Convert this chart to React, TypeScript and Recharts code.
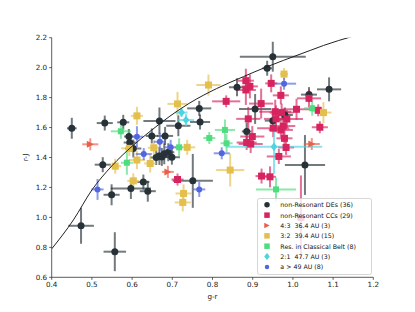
import React from 'react';
import { ScatterChart, Scatter, XAxis, YAxis, ErrorBar, Legend, Curve } from 'recharts';

type P = [number, number, number, number]; // g-r, r-J, err(g-r), err(r-J)

const deNonRes: P[] = [
  [0.45, 1.595, 0.012, 0.07], [0.532, 1.63, 0.02, 0.05], [0.578, 1.635, 0.015, 0.05],
  [0.592, 1.54, 0.012, 0.05], [0.594, 1.5, 0.015, 0.05], [0.603, 1.46, 0.02, 0.06],
  [0.668, 1.644, 0.04, 0.09], [0.649, 1.544, 0.015, 0.05], [0.682, 1.544, 0.02, 0.06],
  [0.715, 1.612, 0.03, 0.07], [0.767, 1.728, 0.03, 0.05], [0.769, 1.637, 0.025, 0.05],
  [0.674, 1.404, 0.02, 0.06], [0.68, 1.425, 0.02, 0.07], [0.699, 1.402, 0.02, 0.05],
  [0.668, 1.41, 0.015, 0.06], [0.527, 1.352, 0.02, 0.05], [0.597, 1.193, 0.05, 0.07],
  [0.628, 1.236, 0.015, 0.05], [0.639, 1.175, 0.02, 0.07], [0.549, 1.151, 0.02, 0.07],
  [0.473, 0.944, 0.032, 0.12], [0.557, 0.771, 0.028, 0.13], [0.751, 1.244, 0.05, 0.18],
  [0.861, 1.869, 0.02, 0.06], [0.95, 2.073, 0.082, 0.1], [0.936, 1.996, 0.012, 0.05],
  [0.906, 1.724, 0.04, 0.1], [0.885, 1.574, 0.012, 0.06], [0.95, 1.646, 0.02, 0.05],
  [1.04, 1.82, 0.02, 0.05], [1.09, 1.855, 0.03, 0.08], [1.03, 1.35, 0.05, 0.2],
  [0.98, 1.684, 0.02, 0.05], [0.66, 1.4, 0.015, 0.05], [0.69, 1.435, 0.015, 0.06],
];

const ccNonRes: P[] = [
  [0.834, 1.775, 0.035, 0.04], [0.883, 1.913, 0.02, 0.08], [0.883, 1.851, 0.025, 0.1],
  [0.893, 1.875, 0.02, 0.08], [0.946, 1.895, 0.015, 0.06], [0.921, 1.76, 0.03, 0.1],
  [0.97, 1.815, 0.02, 0.06], [1.04, 1.795, 0.03, 0.06], [1.009, 1.722, 0.035, 0.07],
  [1.063, 1.715, 0.015, 0.04], [1.067, 1.602, 0.02, 0.04], [0.956, 1.706, 0.04, 0.08],
  [0.972, 1.7, 0.03, 0.06], [0.985, 1.657, 0.04, 0.06], [0.958, 1.658, 0.03, 0.09],
  [0.889, 1.658, 0.03, 0.08], [0.976, 1.61, 0.03, 0.07], [0.951, 1.596, 0.04, 0.06],
  [0.97, 1.584, 0.03, 0.05], [0.899, 1.54, 0.03, 0.07], [0.885, 1.5, 0.025, 0.05],
  [0.895, 1.49, 0.03, 0.06], [0.983, 1.467, 0.02, 0.05], [0.965, 1.407, 0.03, 0.05],
  [0.979, 1.528, 0.02, 0.06], [0.922, 1.276, 0.015, 0.05], [0.943, 1.271, 0.015, 0.07],
  [0.713, 1.253, 0.015, 0.04], [1.02, 1.0, 0.01, 0.28],
];

const res43: P[] = [
  [0.496, 1.488, 0.02, 0.04], [0.689, 1.304, 0.015, 0.04], [1.047, 1.49, 0.02, 0.04],
];

const res32: P[] = [
  [0.612, 1.678, 0.015, 0.06], [0.713, 1.758, 0.025, 0.08], [0.79, 1.884, 0.03, 0.07],
  [0.978, 1.957, 0.01, 0.04], [1.076, 1.7, 0.02, 0.07], [0.593, 1.461, 0.02, 0.05],
  [0.654, 1.465, 0.015, 0.05], [0.737, 1.468, 0.02, 0.05], [0.558, 1.342, 0.015, 0.05],
  [0.612, 1.383, 0.02, 0.06], [0.645, 1.36, 0.015, 0.06], [0.603, 1.244, 0.015, 0.05],
  [0.728, 1.16, 0.02, 0.06], [0.726, 1.1, 0.02, 0.06], [0.844, 1.316, 0.035, 0.11],
];

const resClassical: P[] = [
  [0.572, 1.575, 0.025, 0.05], [0.792, 1.53, 0.015, 0.04], [0.831, 1.584, 0.025, 0.07],
  [0.835, 1.495, 0.015, 0.06], [0.717, 1.468, 0.01, 0.06], [0.587, 1.365, 0.015, 0.08],
  [1.048, 1.729, 0.02, 0.05], [0.958, 1.187, 0.05, 0.08],
];

const res21: P[] = [
  [0.723, 1.7, 0.015, 0.03], [0.734, 1.65, 0.02, 0.04], [0.953, 1.472, 0.12, 0.18],
];

const beyond49: P[] = [
  [0.612, 1.539, 0.015, 0.07], [0.669, 1.505, 0.015, 0.06], [0.696, 1.468, 0.015, 0.05],
  [0.629, 1.423, 0.02, 0.04], [0.823, 1.428, 0.02, 0.04], [0.514, 1.187, 0.015, 0.07],
  [0.767, 1.187, 0.015, 0.05], [0.978, 1.893, 0.03, 0.04],
];

const curveGR = [0.4, 0.454, 0.5, 0.55, 0.6, 0.645, 0.694, 0.744, 0.81, 0.877, 0.93, 0.976, 1.043, 1.076, 1.15];
const curveRJ = [0.79, 0.983, 1.183, 1.345, 1.475, 1.575, 1.676, 1.765, 1.86, 1.94, 2.0, 2.048, 2.115, 2.148, 2.21];

const xTicks = [0.4, 0.5, 0.6, 0.7, 0.8, 0.9, 1.0, 1.1, 1.2];
const yTicks = [0.6, 0.8, 1.0, 1.2, 1.4, 1.6, 1.8, 2.0, 2.2];

const legendLabels = [
  'non-Resonant DEs (36)',
  'non-Resonant CCs (29)',
  '4:3  36.4 AU (3)',
  '3:2  39.4 AU (15)',
  'Res. in Classical Belt (8)',
  '2:1  47.7 AU (3)',
  'a > 49 AU (8)',
];

const C = {
  dark: '#263238',
  crimson: '#d6245f',
  red: '#e8604c',
  yellow: '#e3bf4e',
  green: '#4fdc7f',
  cyan: '#4dd4e0',
  blue: '#5266e0',
};

const rows = (pts: P[]) => pts.map(([x, y, ex, ey]) => ({ x, y, ex, ey }));
const curveRows = curveGR.map((x, i) => ({ x, y: curveRJ[i] }));

const mk = (kind: string, size: number, fill: string) => (p: any) => {
  const { cx, cy } = p;
  if (cx == null || cy == null) return <g />;
  const h = size / 2;
  if (kind === 'circle') return <circle cx={cx} cy={cy} r={h} fill={fill} />;
  if (kind === 'square') return <rect x={cx - h} y={cy - h} width={size} height={size} fill={fill} />;
  if (kind === 'tri') return <polygon points={`${cx + h},${cy} ${cx - h},${cy - h} ${cx - h},${cy + h}`} fill={fill} />;
  if (kind === 'diamond') return <polygon points={`${cx},${cy - h} ${cx + h * 0.8},${cy} ${cx},${cy + h} ${cx - h * 0.8},${cy}`} fill={fill} />;
  return <g />;
};

const series = [
  { name: legendLabels[0], data: deNonRes, color: C.dark, kind: 'circle', size: 7 },
  { name: legendLabels[1], data: ccNonRes, color: C.crimson, kind: 'square', size: 7 },
  { name: legendLabels[2], data: res43, color: C.red, kind: 'tri', size: 7 },
  { name: legendLabels[3], data: res32, color: C.yellow, kind: 'square', size: 7 },
  { name: legendLabels[4], data: resClassical, color: C.green, kind: 'square', size: 6 },
  { name: legendLabels[5], data: res21, color: C.cyan, kind: 'diamond', size: 8.5 },
  { name: legendLabels[6], data: beyond49, color: C.blue, kind: 'circle', size: 6 },
];

const font = "'DejaVu Sans', sans-serif";
const f1 = (v: number) => v.toFixed(1);

const LegendBox = () => (
  <svg width={115} height={77} style={{ display: 'block' }}>
    <rect x={0.5} y={0.5} width={114} height={76} rx={2} fill="#fff" fillOpacity={0.8} stroke="#cccccc" strokeWidth={0.8} />
    {series.map((s, i) => {
      const cy = 6.8 + i * 10.35;
      const lsize = s.kind === 'circle' ? (i === 0 ? 5.5 : 4.5) : s.kind === 'diamond' ? 7 : 5.5;
      return (
        <g key={i}>
          {mk(s.kind, lsize, s.color)({ cx: 10, cy })}
          <text x={23.3} y={cy} dominantBaseline="central" fontSize={6.3} fontFamily={font} fill="#111" style={{ whiteSpace: 'pre' }}>
            {s.name}
          </text>
        </g>
      );
    })}
  </svg>
);

const smoothLine = (props: any) => (
  <Curve points={props.points} type="monotoneX" stroke="#222" strokeWidth={1} fill="none" />
);

export default function App() {
  return (
    <div style={{ position: 'absolute', left: 0, top: 0, width: 415, height: 312, background: '#fff' }}>
      <ScatterChart width={415} height={312} margin={{ top: 37.7, right: 41.7, bottom: 10.7, left: 5.7 }}>
        <XAxis
          type="number"
          dataKey="x"
          domain={[0.4, 1.2]}
          ticks={xTicks}
          allowDataOverflow
          tickFormatter={f1}
          height={24}
          tickSize={2.5}
          tickMargin={2}
          stroke="#333"
          strokeWidth={0.8}
          tick={{ fontSize: 7.2, fill: '#222', fontFamily: font }}
          label={{ value: 'g-r', position: 'insideBottom', offset: 2, fontSize: 7.2, fill: '#222', fontFamily: font }}
        />
        <YAxis
          type="number"
          dataKey="y"
          domain={[0.6, 2.2]}
          ticks={yTicks}
          allowDataOverflow
          tickFormatter={f1}
          width={46}
          tickSize={2.5}
          tickMargin={2}
          stroke="#333"
          strokeWidth={0.8}
          tick={{ fontSize: 7.2, fill: '#222', fontFamily: font }}
          label={{ value: 'r-J', angle: -90, position: 'center', fontSize: 7.2, fill: '#222', fontFamily: font, dx: -3 }}
        />
        <XAxis
          xAxisId="top"
          orientation="top"
          type="number"
          domain={[0.4, 1.2]}
          height={0}
          tick={false}
          tickLine={false}
          stroke="#333"
          strokeWidth={0.8}
          label={{ value: 'Resonant Col-OSSOS TNOs', position: 'top', offset: 4, fontSize: 8.6, fill: '#111', fontFamily: font }}
        />
        <YAxis
          yAxisId="right"
          orientation="right"
          type="number"
          domain={[0.6, 2.2]}
          width={0}
          tick={false}
          tickLine={false}
          stroke="#333"
          strokeWidth={0.8}
        />
        {series.map((s, i) => (
          <Scatter
            key={i}
            name={s.name}
            data={rows(s.data)}
            fill={s.color}
            shape={mk(s.kind, s.size, s.color)}
            isAnimationActive={false}
          >
            <ErrorBar dataKey="ex" direction="x" width={0} stroke={s.color} strokeWidth={2} strokeOpacity={0.65} />
            <ErrorBar dataKey="ey" direction="y" width={0} stroke={s.color} strokeWidth={2} strokeOpacity={0.65} />
          </Scatter>
        ))}
        <Scatter
          name="curve"
          data={curveRows}
          line={smoothLine}
          shape={() => <g />}
          isAnimationActive={false}
          legendType="none"
        />
        <Legend
          layout="vertical"
          align="center"
          verticalAlign="middle"
          width={115}
          height={77}
          wrapperStyle={{ left: 256.5, top: 197.5, width: 115, height: 77 }}
          content={() => <LegendBox />}
        />
      </ScatterChart>
    </div>
  );
}
